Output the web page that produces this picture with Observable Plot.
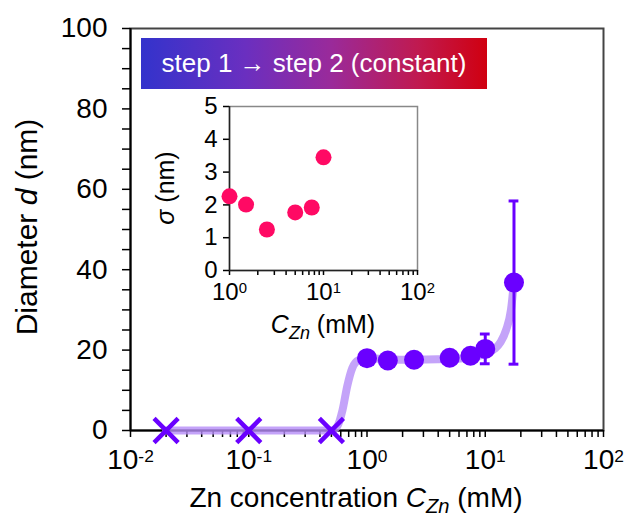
<!DOCTYPE html>
<html><head><meta charset="utf-8">
<script src="https://cdn.jsdelivr.net/npm/d3@7"></script>
<script src="https://cdn.jsdelivr.net/npm/@observablehq/plot@0.6"></script>
<style>
body{margin:0;background:#fff;}
#wrap{position:relative;width:631px;height:519px;font-family:"Liberation Sans",Arial,sans-serif;overflow:hidden;}
#main{position:absolute;left:0;top:0;}
#legend{position:absolute;left:141px;top:38px;width:346px;height:51px;background:linear-gradient(to right,#3333cc 0%,#6a2fc0 30%,#9a2a9a 55%,#c01a50 80%,#d00010 100%);color:#fff;font-size:26px;display:flex;align-items:center;justify-content:center;}
#inset{position:absolute;left:150px;top:80px;}
</style></head><body>
<div id="wrap"><div id="main"></div><div id="legend">step 1 → step 2 (constant)</div><div id="inset"></div></div>
<script>
// ---- data ----
const crossX = [0.02, 0.1, 0.5];
const crossY = [0, 0, 0];
const czn = [1, 1.5, 2.5, 5, 7.5, 10, 17.5];
const diameter = [18.0, 17.4, 17.6, 18.1, 18.6, 20.3, 36.8];
const dErr = [0, 0, 0, 0, 0, 3.7, 20.3];
const fitX = [0.02, 0.5, 0.56, 0.62, 0.68, 0.75, 0.85, 1, 2, 5, 8, 10, 12, 13.5, 15, 16.5, 17.5];
const fitY = [0, 0, 1, 5, 11, 15.5, 17.5, 18, 17.6, 17.8, 18.3, 19, 20.3, 22, 25, 30, 37];
const insetX = [1, 1.5, 2.5, 5, 7.5, 10];
const sigma = [2.26, 2.01, 1.25, 1.77, 1.92, 3.45];
const mainXDecades = [-2, -1, 0, 1, 2];
const mainYLabels = [0, 20, 40, 60, 80, 100];
const insetXDecades = [0, 1, 2];
const insetYLabels = [0, 1, 2, 3, 4, 5];

const FONT = '"Liberation Sans", Arial, sans-serif';
const purple = "#6a00ff";
const pink = "#ff0a64";

function logTicks(decades) {
  const t = [];
  for (let i = 0; i < decades.length; i++) {
    const base = Math.pow(10, decades[i]);
    t.push(base);
    if (i < decades.length - 1) for (let k = 2; k <= 9; k++) t.push(base * k);
  }
  return t;
}
const isDecade = d => Math.abs(Math.log10(d) - Math.round(Math.log10(d))) < 1e-9;
const fmtDecade = d => isDecade(d) ? "10^" + Math.round(Math.log10(d)) : "";

const pts = czn.map((x, i) => ({x, y: diameter[i], e: dErr[i]}));
const errPts = pts.filter(d => d.e > 0);
const crosses = crossX.map((x, i) => ({x, y: crossY[i]}));
const fit = fitX.map((x, i) => ({x, y: fitY[i]}));

const main = Plot.plot({
  width: 631, height: 519,
  marginLeft: 130, marginRight: 28, marginTop: 28, marginBottom: 89,
  style: {fontFamily: FONT, fontSize: "28px", color: "#000", background: "transparent", overflow: "visible"},
  x: {type: "log", domain: [0.01, 100]},
  y: {domain: [0, 100]},
  marks: [
    Plot.frame({stroke: "#444", strokeWidth: 2}),
    Plot.axisY({ticks: d3.range(0, 101, 5), tickSize: 8, tickPadding: 15, strokeWidth: 1.5,
      tickFormat: d => mainYLabels.includes(d) ? String(d) : "", label: null}),
    Plot.axisX({ticks: logTicks(mainXDecades), tickSize: 7, tickPadding: 12, strokeWidth: 1.5,
      tickFormat: fmtDecade, label: null}),
    Plot.ruleX([0.01], {stroke: "#000", strokeWidth: 2}),
    Plot.ruleY([0], {stroke: "#000", strokeWidth: 2}),
    Plot.line(fit, {x: "x", y: "y", curve: "monotone-x", stroke: "#b58cf8", strokeOpacity: 0.8, strokeWidth: 8}),
    Plot.ruleX(errPts, {x: "x", y1: d => d.y - d.e, y2: d => d.y + d.e, stroke: purple, strokeWidth: 3}),
    Plot.ruleY(errPts, {y: d => d.y - d.e, x1: d => d.x / 1.1, x2: d => d.x * 1.1, stroke: purple, strokeWidth: 3}),
    Plot.ruleY(errPts, {y: d => d.y + d.e, x1: d => d.x / 1.1, x2: d => d.x * 1.1, stroke: purple, strokeWidth: 3}),
    Plot.dot(crosses, {x: "x", y: "y", symbol: "times", r: 11, stroke: purple, strokeWidth: 4.5}),
    Plot.dot(pts, {x: "x", y: "y", r: 10, fill: purple})
  ]
});
document.getElementById("main").appendChild(main);

const inset = Plot.plot({
  width: 280, height: 240,
  marginLeft: 79, marginRight: 13, marginTop: 26, marginBottom: 50,
  style: {fontFamily: FONT, fontSize: "24px", color: "#000", background: "transparent", overflow: "visible"},
  x: {type: "log", domain: [1, 100]},
  y: {domain: [0, 5]},
  marks: [
    Plot.frame({stroke: "#888", strokeWidth: 1.5}),
    Plot.axisY({ticks: insetYLabels, tickSize: 6, tickPadding: 6, strokeWidth: 1.5,
      tickFormat: d => String(d), label: null}),
    Plot.axisX({ticks: logTicks(insetXDecades), tickSize: 5, tickPadding: 7, strokeWidth: 1.5,
      tickFormat: fmtDecade, label: null}),
    Plot.ruleX([1], {stroke: "#222", strokeWidth: 1.5}),
    Plot.ruleY([0], {stroke: "#222", strokeWidth: 1.5}),
    Plot.dot(insetX.map((x, i) => ({x, y: sigma[i]})), {x: "x", y: "y", r: 8, fill: pink})
  ]
});
document.getElementById("inset").appendChild(inset);

// superscript tick labels
function supTicks(svg) {
  d3.select(svg).selectAll("text").each(function () {
    const t = this.textContent;
    const m = /^10\^(-?\d+)$/.exec(t);
    if (!m) return;
    const sel = d3.select(this);
    sel.text(null);
    sel.append("tspan").text("10");
    sel.append("tspan").attr("dy", "-0.42em").attr("font-size", "0.62em").text(m[1]);
  });
}
supTicks(main);
supTicks(inset);

// axis titles
function addTitle(svg, x, y, rotate, parts, size) {
  const t = d3.select(svg).append("text")
    .attr("transform", `translate(${x},${y})` + (rotate ? ` rotate(${rotate})` : ""))
    .attr("text-anchor", "middle")
    .attr("font-family", FONT)
    .attr("font-size", size)
    .attr("fill", "#000");
  let shift = 0;
  for (const p of parts) {
    const s = t.append("tspan").text(p.t);
    if (p.i) s.attr("font-style", "italic");
    const target = p.sub ? 0.22 : 0;
    if (p.sub) s.attr("font-size", size * 0.72);
    if (target !== shift) { s.attr("dy", (target - shift) * size); shift = target; }
  }
}
addTitle(main, 356, 507, 0, [
  {t: "Zn concentration "}, {t: "C", i: true}, {t: "Zn", i: true, sub: true}, {t: " (mM)"}
], 28);
addTitle(main, 37, 227, -90, [
  {t: "Diameter "}, {t: "d", i: true}, {t: " (nm)"}
], 30);
addTitle(inset, 24, 108, -90, [
  {t: "σ", i: true}, {t: " (nm)"}
], 25);
addTitle(inset, 173, 253, 0, [
  {t: "C", i: true}, {t: "Zn", i: true, sub: true}, {t: " (mM)"}
], 25);
</script>
</body></html>
